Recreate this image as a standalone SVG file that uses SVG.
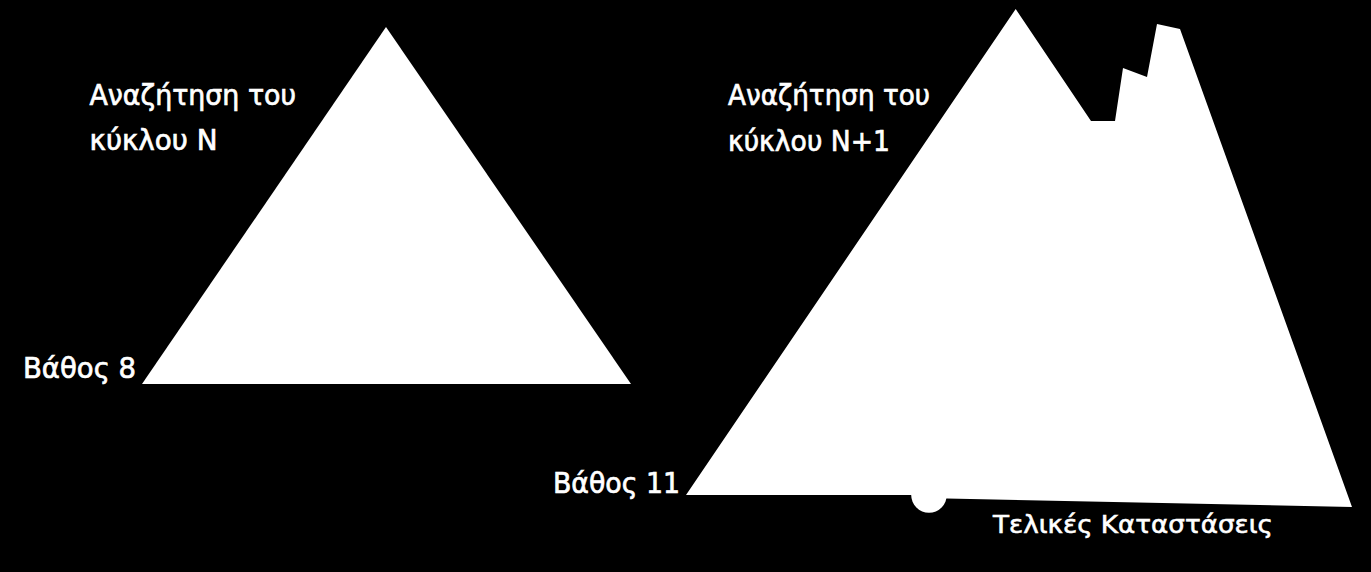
<svg xmlns="http://www.w3.org/2000/svg" width="1371" height="572" viewBox="0 0 1371 572">
<style>
.shape{fill:#ffffff;stroke:none}
.lbl{fill:#ffffff;stroke:#ffffff;stroke-width:0.7px;font-family:"DejaVu Sans","Liberation Sans",sans-serif;font-size:28px}
.lbl2{fill:#ffffff;stroke:#ffffff;stroke-width:0.6px;font-family:"DejaVu Sans","Liberation Sans",sans-serif;font-size:25px}
</style>
<rect x="0" y="0" width="1371" height="572" fill="#000000"/>
<g id="triangle-n">
<polygon class="shape" points="386,27 631,384 142,384"/>
</g>
<g id="shape-n1">
<polygon class="shape" points="1015.7,9 1091,121 1115,121 1123,68 1147,77 1157,24 1180,29 1352,507 947,498.5 911,495 686,495"/>
<circle class="shape" cx="929" cy="495" r="17.8"/>
</g>
<g id="labels">
<text class="lbl" x="89.5" y="105" textLength="206.5" lengthAdjust="spacingAndGlyphs">Αναζήτηση του</text>
<text class="lbl" x="89.5" y="150" textLength="128" lengthAdjust="spacingAndGlyphs">κύκλου N</text>
<text class="lbl" x="23" y="378" textLength="113" lengthAdjust="spacingAndGlyphs">Βάθος 8</text>
<text class="lbl" x="728" y="105" textLength="202" lengthAdjust="spacingAndGlyphs">Αναζήτηση του</text>
<text class="lbl" x="728" y="150.5" textLength="162" lengthAdjust="spacingAndGlyphs">κύκλου N+1</text>
<text class="lbl" x="553" y="493" textLength="127" lengthAdjust="spacingAndGlyphs">Βάθος 11</text>
<text class="lbl2" x="993" y="533" textLength="280" lengthAdjust="spacingAndGlyphs">Τελικές Καταστάσεις</text>
</g>
<g id="connectors"></g>
</svg>
